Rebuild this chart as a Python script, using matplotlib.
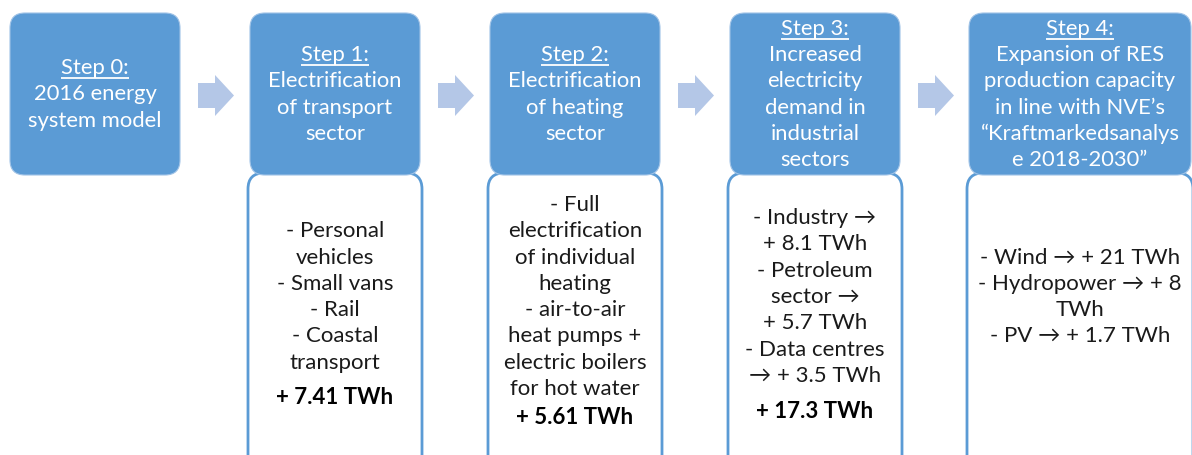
import matplotlib.pyplot as plt
from matplotlib.patches import FancyBboxPatch, Polygon

# --------------------------------------------
# DATA
# --------------------------------------------

steps = ["Step 0:", "Step 1:", "Step 2:", "Step 3:", "Step 4:"]
titles = [
    ["2016 energy", "system model"],
    ["Electrification", "of transport", "sector"],
    ["Electrification", "of heating", "sector"],
    ["Increased", "electricity", "demand in", "industrial", "sectors"],
    ["Expansion of RES", "production capacity", "in line with NVE\u2019s",
     "\u201cKraftmarkedsanalys", "e 2018-2030\u201d"],
]
details = [
    None,
    ["- Personal", "vehicles", "- Small vans", "- Rail", "- Coastal", "transport"],
    ["- Full", "electrification", "of individual", "heating", "- air-to-air",
     "heat pumps +", "electric boilers", "for hot water"],
    ["- Industry \u2192", "+ 8.1 TWh", "- Petroleum", "sector \u2192", "+ 5.7 TWh",
     "- Data centres", "\u2192 + 3.5 TWh"],
    ["- Wind \u2192 + 21 TWh", "- Hydropower \u2192 + 8", "TWh", "- PV \u2192 + 1.7 TWh"],
]
totals = [None, "+ 7.41 TWh", "+ 5.61 TWh", "+ 17.3 TWh", None]

# --------------------------------------------
# LAYOUT
# --------------------------------------------

W, H = 1192, 455
BLUE = "#5b9bd5"
ARROW = "#b4c7e7"
FONT = ["Lato", "DejaVu Sans"]
LINE = 26.3

box_x = [10, 250, 490, 730, 969]
box_w = [170, 170, 170, 170, 222]
total_y = [None, 398, 417, 412, None]

fig = plt.figure(figsize=(W / 100, H / 100), dpi=100)
ax = fig.add_axes([0, 0, 1, 1])
ax.set_xlim(0, W)
ax.set_ylim(H, 0)
ax.axis("off")

title_objs = []
for i in range(len(steps)):
    x0, w = box_x[i], box_w[i]
    cx = x0 + w / 2

    # lower white box
    if details[i] is not None:
        lb = FancyBboxPatch((x0 - 2, 173), w + 4, 300,
                            boxstyle="round,pad=0,rounding_size=16",
                            fc="white", ec=BLUE, lw=2, zorder=1)
        ax.add_patch(lb)
        n = len(details[i])
        for k, line in enumerate(details[i]):
            y = 297 + (k - (n - 1) / 2) * LINE
            ax.text(cx, y, line, ha="center", va="center", fontsize=16,
                    family=FONT, color="#1a1a1a", zorder=3)
        if totals[i] is not None:
            ax.text(cx, total_y[i], totals[i], ha="center", va="center",
                    fontsize=16, family=FONT, fontweight="bold",
                    color="black", zorder=3)

    # upper blue box
    tb = FancyBboxPatch((x0, 13), w, 162,
                        boxstyle="round,pad=0,rounding_size=15",
                        fc=BLUE, ec="#9fc2e6", lw=0.8, zorder=2)
    ax.add_patch(tb)
    lines = [steps[i]] + titles[i]
    n = len(lines)
    for k, line in enumerate(lines):
        y = 94.5 + (k - (n - 1) / 2) * LINE
        t = ax.text(cx, y, line, ha="center", va="center", fontsize=15.8,
                    family=FONT, color="white", zorder=3)
        if k == 0:
            title_objs.append((t, y))

    # arrow to next step
    if i < len(steps) - 1:
        ax0 = x0 + w + 18
        arrow = Polygon([(ax0, 83), (ax0 + 17, 83), (ax0 + 17, 75),
                         (ax0 + 36, 95.5), (ax0 + 17, 116), (ax0 + 17, 108),
                         (ax0, 108)], closed=True, fc=ARROW, ec="none", zorder=2)
        ax.add_patch(arrow)

# underline the "Step N:" labels
fig.canvas.draw()
renderer = fig.canvas.get_renderer()
inv = ax.transData.inverted()
for t, y in title_objs:
    bb = t.get_window_extent(renderer)
    (xa, _), (xb, _) = inv.transform([(bb.x0, bb.y0), (bb.x1, bb.y1)])
    ax.plot([xa, xb], [y + 10, y + 10], color="white", lw=1.3, zorder=4,
            solid_capstyle="butt")

fig.savefig("out.png", dpi=100)
